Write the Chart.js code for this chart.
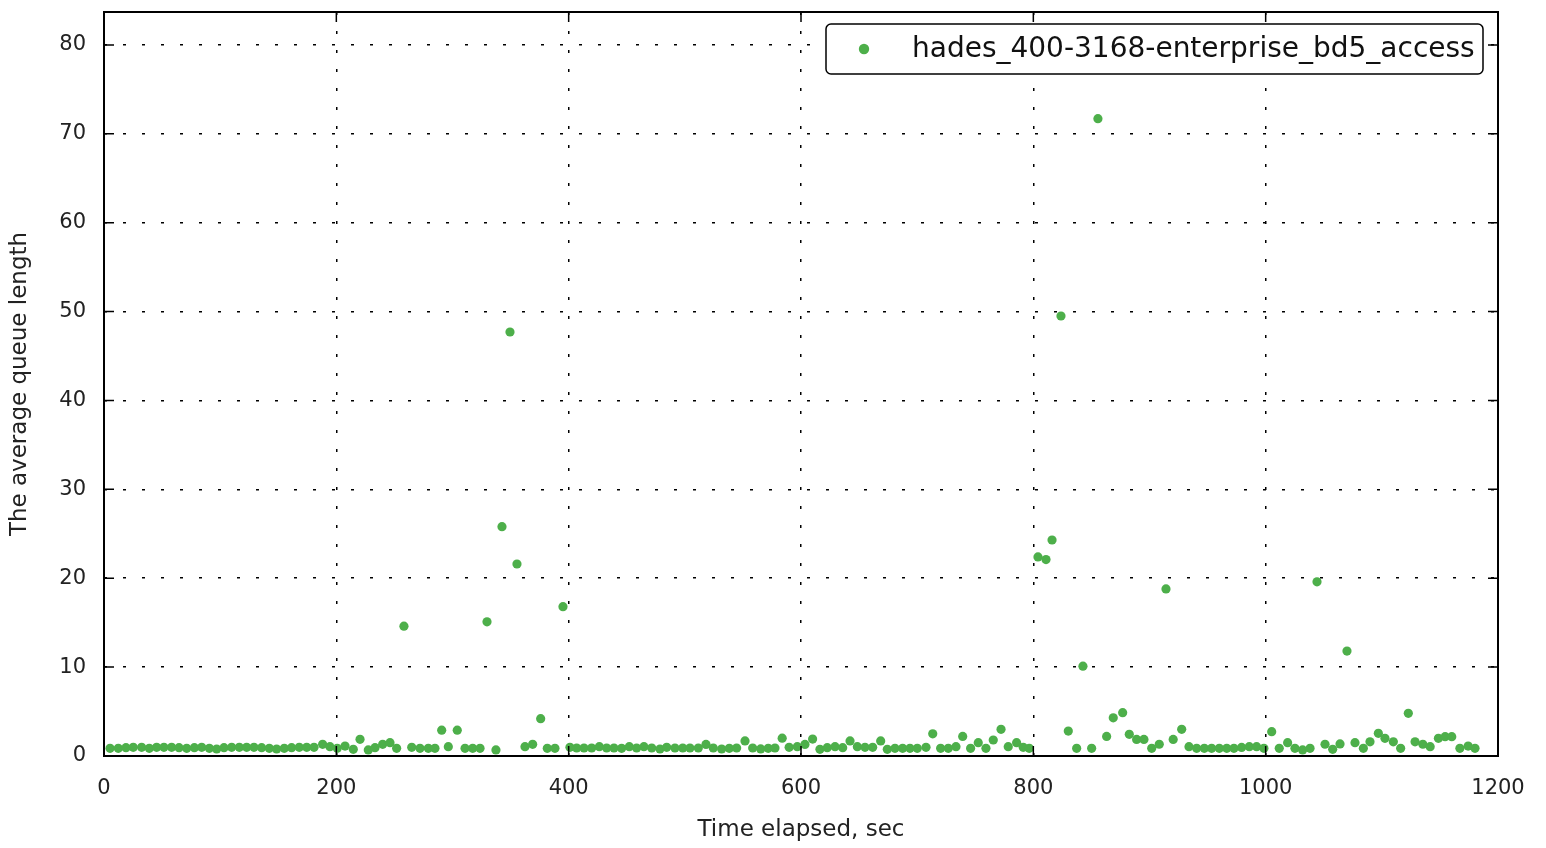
<!DOCTYPE html>
<html lang="en">
<head>
    <meta charset="UTF-8">
    <title>Average queue length</title>
    <style>
        body {
            margin: 0;
            padding: 0;
            background-color: #fff;
        }

        #wrap {
            width: 1546px;
            height: 848px;
        }
    </style>
    <script src="https://cdn.jsdelivr.net/npm/chart.js"></script>
</head>
<body>

<div id="wrap">
    <canvas id="queueChart" width="1546" height="848"></canvas>
</div>

<script>
    const seriesName = 'hades_400-3168-enterprise_bd5_access';

    // sample times, sec
    const times = [
        5.2, 12.3, 18.9, 25.2, 32.4, 39.0, 45.3, 51.6, 58.2, 64.6,
        71.2, 77.8, 84.1, 90.7, 97.0, 103.3, 109.9, 116.5, 122.8, 129.1,
        135.7, 142.3, 148.6, 155.2, 161.5, 168.1, 174.5, 180.8, 188.2, 194.5,
        200.8, 207.5, 214.6, 220.4, 227.5, 233.3, 239.9, 246.2, 251.9, 258.2,
        264.9, 272.0, 279.2, 284.9, 290.7, 296.4, 304.1, 310.8, 317.4, 323.7,
        329.7, 337.4, 342.6, 349.5, 355.5, 362.4, 369.0, 375.9, 381.6, 388.2,
        395.1, 401.1, 406.9, 413.2, 419.8, 426.4, 432.7, 439.0, 445.6, 452.2,
        458.5, 464.8, 471.5, 478.6, 484.4, 491.5, 498.2, 504.4, 511.6, 518.2,
        524.5, 531.7, 538.3, 544.6, 551.8, 558.4, 565.3, 571.8, 577.6, 583.8,
        589.8, 596.8, 603.4, 610.0, 616.3, 622.6, 629.3, 635.9, 642.2, 648.5,
        655.1, 661.7, 668.6, 674.3, 680.9, 687.5, 693.8, 700.1, 707.6, 713.4,
        720.2, 726.8, 733.4, 739.2, 746.0, 752.6, 759.2, 765.5, 772.2, 778.4,
        785.6, 791.3, 796.5, 804.0, 810.9, 816.1, 823.8, 830.1, 837.3, 842.7,
        850.2, 855.6, 863.1, 868.8, 876.9, 882.6, 888.9, 895.2, 901.9, 908.4,
        914.2, 920.4, 927.7, 934.0, 940.6, 947.2, 953.5, 960.1, 966.5, 972.7,
        979.3, 985.9, 992.2, 998.5, 1005.2, 1011.7, 1018.9, 1025.2, 1031.8, 1038.2,
        1044.2, 1051.1, 1057.7, 1064.0, 1070.0, 1076.9, 1084.1, 1089.8, 1097.0, 1102.7,
        1109.9, 1116.2, 1122.8, 1128.6, 1135.3, 1141.6, 1148.7, 1154.5, 1160.2, 1167.2,
        1174.3, 1180.2
    ];

    // average queue length at each sample
    const queueLen = [
        0.86, 0.86, 0.94, 0.98, 0.98, 0.86, 0.98, 0.98, 0.98, 0.94,
        0.86, 0.94, 0.98, 0.86, 0.79, 0.94, 0.98, 0.98, 0.98, 0.98,
        0.94, 0.86, 0.79, 0.86, 0.94, 0.98, 0.98, 0.98, 1.31, 1.05,
        0.86, 1.12, 0.75, 1.88, 0.68, 0.94, 1.31, 1.5, 0.86, 14.6,
        0.98, 0.86, 0.86, 0.86, 2.9, 1.05, 2.9, 0.86, 0.86, 0.86,
        15.1, 0.68, 25.8, 47.7, 21.6, 1.05, 1.31, 4.2, 0.86, 0.86,
        16.8, 0.98, 0.9, 0.9, 0.9, 1.05, 0.9, 0.9, 0.86, 1.05,
        0.9, 1.05, 0.9, 0.79, 0.98, 0.9, 0.9, 0.9, 0.9, 1.3,
        0.9, 0.79, 0.86, 0.9, 1.7, 0.9, 0.8, 0.86, 0.9, 2.0,
        0.98, 1.05, 1.3, 1.9, 0.75, 0.94, 1.05, 0.94, 1.7, 1.05,
        0.98, 0.98, 1.7, 0.75, 0.86, 0.86, 0.86, 0.86, 0.98, 2.5,
        0.86, 0.86, 1.05, 2.2, 0.86, 1.5, 0.86, 1.8, 3.0, 1.05,
        1.5, 0.98, 0.86, 22.4, 22.1, 24.3, 49.5, 2.8, 0.86, 10.1,
        0.86, 71.7, 2.2, 4.3, 4.87, 2.44, 1.87, 1.87, 0.86, 1.32,
        18.8, 1.87, 3.0, 1.05, 0.86, 0.86, 0.86, 0.86, 0.86, 0.86,
        0.97, 1.05, 1.05, 0.86, 2.74, 0.86, 1.5, 0.86, 0.68, 0.86,
        19.6, 1.32, 0.75, 1.36, 11.8, 1.5, 0.86, 1.6, 2.55, 1.99,
        1.6, 0.86, 4.8, 1.6, 1.32, 1.05, 1.99, 2.17, 2.17, 0.86,
        1.12, 0.86
    ];

    const xTicks = [0, 200, 400, 600, 800, 1000, 1200];
    const yTicks = [0, 10, 20, 30, 40, 50, 60, 70, 80];

    const points = times.map(function (t, i) {
        return { x: t, y: queueLen[i] };
    });

    const fontFamily = '"DejaVu Sans", Arial, sans-serif';
    const green = '#4daf4a';

    // frame, inward ticks and the boxed legend, matplotlib style
    const framePlugin = {
        id: 'frame',
        afterDatasetsDraw: function (chart) {
            const ctx = chart.ctx;
            const a = chart.chartArea;
            const xs = chart.scales.x;
            const ys = chart.scales.y;
            const tickLen = 10;

            ctx.save();
            ctx.strokeStyle = '#000';
            ctx.lineWidth = 1.5;
            ctx.beginPath();
            xTicks.forEach(function (v) {
                const px = xs.getPixelForValue(v);
                ctx.moveTo(px, a.bottom);
                ctx.lineTo(px, a.bottom - tickLen);
                ctx.moveTo(px, a.top);
                ctx.lineTo(px, a.top + tickLen);
            });
            yTicks.forEach(function (v) {
                const py = ys.getPixelForValue(v);
                ctx.moveTo(a.left, py);
                ctx.lineTo(a.left + tickLen, py);
                ctx.moveTo(a.right, py);
                ctx.lineTo(a.right - tickLen, py);
            });
            ctx.stroke();

            ctx.lineWidth = 2;
            ctx.strokeRect(a.left, a.top, a.right - a.left, a.bottom - a.top);

            // legend box
            const bx = 826, by = 24, bw = 657, bh = 50, r = 5;
            ctx.beginPath();
            ctx.moveTo(bx + r, by);
            ctx.arcTo(bx + bw, by, bx + bw, by + bh, r);
            ctx.arcTo(bx + bw, by + bh, bx, by + bh, r);
            ctx.arcTo(bx, by + bh, bx, by, r);
            ctx.arcTo(bx, by, bx + bw, by, r);
            ctx.closePath();
            ctx.fillStyle = '#fff';
            ctx.fill();
            ctx.lineWidth = 1.5;
            ctx.stroke();

            ctx.beginPath();
            ctx.arc(864, by + bh / 2, 5.2, 0, Math.PI * 2);
            ctx.fillStyle = green;
            ctx.fill();

            ctx.fillStyle = '#111';
            ctx.font = '28px ' + fontFamily;
            ctx.textBaseline = 'middle';
            ctx.textAlign = 'left';
            ctx.fillText(seriesName, 912, by + bh / 2 + 1);
            ctx.restore();
        }
    };

    const ctx = document.getElementById('queueChart').getContext('2d');
    const queueChart = new Chart(ctx, {
        type: 'scatter',
        data: {
            datasets: [{
                label: seriesName,
                data: points,
                backgroundColor: green,
                borderColor: green,
                pointRadius: 4.6,
                pointBorderWidth: 0,
                pointHoverRadius: 4.6,
            }]
        },
        options: {
            responsive: false,
            animation: false,
            events: [],
            layout: {
                padding: { top: 12, right: 48, bottom: 0, left: 0 }
            },
            plugins: {
                legend: { display: false },
                tooltip: { enabled: false },
            },
            scales: {
                x: {
                    type: 'linear',
                    min: 0,
                    max: 1200,
                    afterBuildTicks: function (scale) {
                        scale.ticks = xTicks.map(function (v) { return { value: v }; });
                    },
                    afterFit: function (scale) {
                        scale.height = 92;
                        scale.paddingLeft = 0;
                        scale.paddingRight = 0;
                    },
                    grid: {
                        color: '#000',
                        lineWidth: 1.5,
                        drawTicks: false,
                    },
                    border: {
                        display: false,
                        dash: [3, 16],
                    },
                    ticks: {
                        padding: 20,
                        color: '#222',
                        maxRotation: 0,
                        font: { family: fontFamily, size: 21 },
                        callback: function (v) { return String(v); },
                    },
                    title: {
                        display: true,
                        text: 'Time elapsed, sec',
                        color: '#222',
                        padding: { top: 0, bottom: 4 },
                        font: { family: fontFamily, size: 23 },
                    },
                },
                y: {
                    type: 'linear',
                    min: 0,
                    max: 83.7,
                    afterBuildTicks: function (scale) {
                        scale.ticks = yTicks.map(function (v) { return { value: v }; });
                    },
                    afterFit: function (scale) {
                        scale.width = 104;
                        scale.paddingTop = 0;
                        scale.paddingBottom = 0;
                    },
                    grid: {
                        color: '#000',
                        lineWidth: 1.5,
                        drawTicks: false,
                    },
                    border: {
                        display: false,
                        dash: [3, 16],
                    },
                    ticks: {
                        padding: 18,
                        color: '#222',
                        font: { family: fontFamily, size: 21 },
                    },
                    title: {
                        display: true,
                        text: 'The average queue length',
                        color: '#222',
                        padding: { top: 6, bottom: 4 },
                        font: { family: fontFamily, size: 23 },
                    },
                },
            },
        },
        plugins: [framePlugin],
    });
</script>

</body>
</html>
